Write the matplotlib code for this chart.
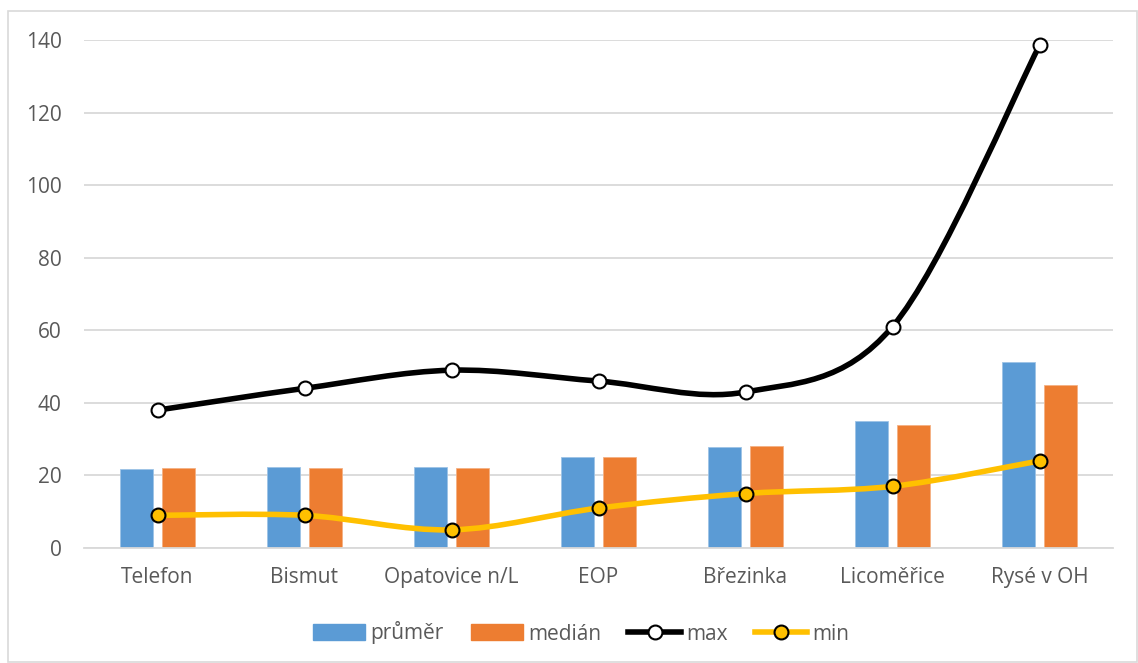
import matplotlib.pyplot as plt
import numpy as np
from matplotlib.path import Path
from matplotlib.patches import PathPatch, Rectangle
from matplotlib.lines import Line2D

plt.rcParams['font.family'] = ['Open Sans', 'DejaVu Sans']

lokality = ['Telefon', 'Bismut', 'Opatovice n/L', 'EOP', 'Březinka', 'Licoměřice', 'Rysé v OH']
prumer = [21.7, 22.2, 22.4, 25.0, 27.9, 34.9, 51.2]
median = [22, 22, 22, 25, 28, 34, 45]
maximum = [38, 44, 49, 46, 43, 61, 138.5]
minimum = [9, 9, 5, 11, 15, 17, 24]

c_blue = '#5B9BD5'
c_orange = '#ED7D31'
c_yellow = '#FFC000'
c_text = '#595959'
c_grid = '#D9D9D9'


def smooth_path(x, y):
    # cubic bezier through every point, control points as in Catmull-Rom
    pts = np.column_stack([x, y]).astype(float)
    verts = [pts[0]]
    codes = [Path.MOVETO]
    n = len(pts)
    for i in range(n - 1):
        p0 = pts[i - 1] if i > 0 else pts[i]
        p1 = pts[i]
        p2 = pts[i + 1]
        p3 = pts[i + 2] if i + 2 < n else pts[i + 1]
        c1 = p1 + (p2 - p0) / 6.0
        c2 = p2 - (p3 - p1) / 6.0
        verts += [c1, c2, p2]
        codes += [Path.CURVE4] * 3
    return Path(verts, codes)


fig = plt.figure(figsize=(11.38, 6.63), dpi=100)
fig.patches.append(Rectangle((8 / 1138, 0.002), 1 - 9 / 1138, 1 - 12 / 663,
                             transform=fig.transFigure, fill=False,
                             edgecolor=c_grid, linewidth=1.2))
ax = fig.add_axes([84 / 1138, 1 - 548 / 663, (1113 - 84) / 1138, (548 - 40) / 663])

x = np.arange(len(lokality))
w = 0.218
ax.bar(x - 0.143, prumer, w, color=c_blue, edgecolor='#9DC3E6', linewidth=0.6, zorder=2)
ax.bar(x + 0.143, median, w, color=c_orange, edgecolor='#F4B183', linewidth=0.6, zorder=2)

lw = 4.0
for vals, col, face in [(maximum, 'black', 'white'), (minimum, c_yellow, c_yellow)]:
    ax.add_patch(PathPatch(smooth_path(x, vals), fill=False, edgecolor=col,
                           linewidth=lw, capstyle='round', joinstyle='round',
                           zorder=3, clip_on=False))
    ax.plot(x, vals, linestyle='none', marker='o', markersize=10,
            markerfacecolor=face, markeredgecolor='black', markeredgewidth=1.5,
            zorder=4, clip_on=False)

ax.set_xlim(-0.5, len(lokality) - 0.5)
ax.set_ylim(0, 140)
ax.set_yticks(np.arange(0, 141, 20))
ax.set_xticks(x)
ax.set_xticklabels(lokality)
ax.grid(axis='y', color=c_grid, linewidth=1.3, zorder=0)
ax.set_axisbelow(True)
for s in ['top', 'right', 'left']:
    ax.spines[s].set_visible(False)
ax.spines['bottom'].set_color(c_grid)
ax.spines['bottom'].set_linewidth(1.3)
ax.tick_params(axis='both', length=0, labelsize=15, labelcolor=c_text)
ax.tick_params(axis='y', pad=16)
ax.tick_params(axis='x', pad=14)

handles = [
    Rectangle((0, 0), 1, 1, color=c_blue),
    Rectangle((0, 0), 1, 1, color=c_orange),
    Line2D([], [], color='black', linewidth=lw, marker='o', markersize=10,
           markerfacecolor='white', markeredgecolor='black', markeredgewidth=1.5),
    Line2D([], [], color=c_yellow, linewidth=lw, marker='o', markersize=10,
           markerfacecolor=c_yellow, markeredgecolor='black', markeredgewidth=1.5),
]
leg = fig.legend(handles, ['průměr', 'medián', 'max', 'min'], ncol=4,
                 loc='center', bbox_to_anchor=(581 / 1138, 1 - 633 / 663),
                 frameon=False, fontsize=15, handlelength=2.5, handleheight=0.77,
                 handletextpad=0.26, columnspacing=1.3)
for t in leg.get_texts():
    t.set_color(c_text)

fig.savefig('out.png', dpi=100)
